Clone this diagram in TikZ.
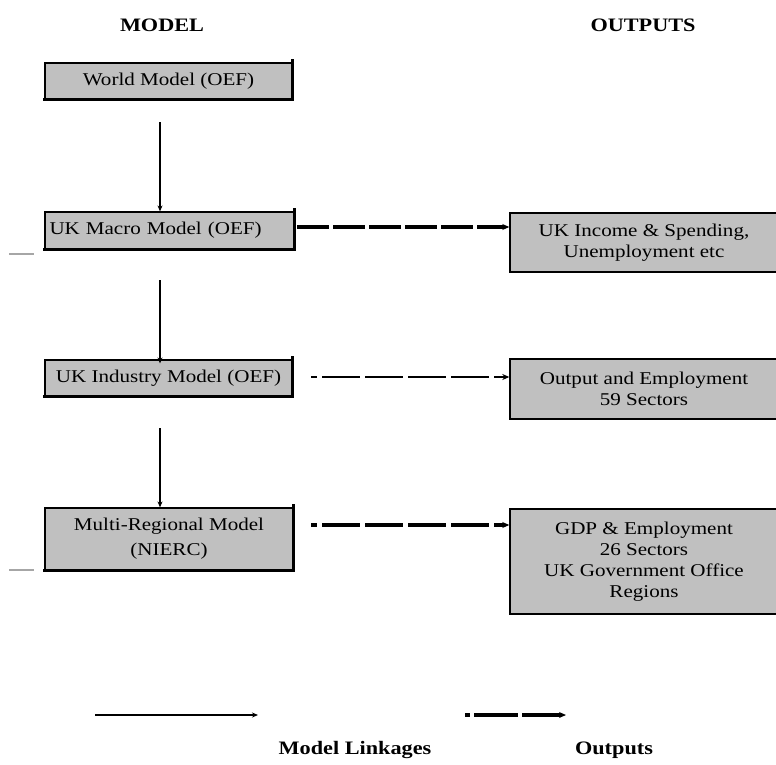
\documentclass[tikz,border=0pt]{standalone}
\usepackage{fontspec}
\setmainfont{Liberation Serif}[FakeStretch=1.17]
\usetikzlibrary{arrows.meta,calc}
\begin{document}
\begin{tikzpicture}[x=1pt,y=-1pt,
  modelbox/.style={draw=black,line width=1.2pt,fill=boxgray,inner sep=0pt,align=center,
    font=\fontsize{18}{25}\selectfont},
  outbox/.style={draw=black,line width=1.4pt,fill=boxgray,inner sep=0pt,align=center,
    font=\fontsize{18}{21}\selectfont,minimum width=268pt},
  shadowline/.style={line width=2.8pt,line cap=rect},
  link/.style={line width=1.1pt,-{Stealth[length=6pt,width=5pt]}},
  thickout/.style={line width=3.2pt,dash pattern=on 32pt off 4pt,-{Stealth[length=7pt,width=6pt]}},
  thinout/.style={line width=1.3pt,-{Stealth[length=7pt,width=6pt]}},
  hdr/.style={font=\fontsize{19}{21}\selectfont\bfseries}]
\definecolor{boxgray}{HTML}{C0C0C0}
\useasboundingbox (0,0) rectangle (776,764);

\node[hdr] (hmodel) at (162,25) {MODEL};
\node[hdr] (hout) at (643,25) {OUTPUTS};

\node[modelbox,minimum width=247pt,minimum height=36pt] (world) at (168.5,81) {World Model (OEF)};
\node[modelbox,minimum width=249pt,minimum height=37pt,text width=240pt,align=left] (macro) at (169.5,230.5) {UK Macro Model (OEF)};
\node[modelbox,minimum width=247pt,minimum height=36pt] (industry) at (168.5,378) {UK Industry Model (OEF)};
\node[modelbox,minimum width=248pt,minimum height=62pt] (multi) at (169,539) {Multi-Regional Model\\(NIERC)};

\foreach \b in {world,macro,industry,multi}{
  \draw[shadowline] ([yshift=2pt]\b.north east) -- (\b.south east) -- (\b.south west);
}

\node[outbox,minimum height=59pt] (income) at (644,242.5) {UK Income \& Spending,\\Unemployment etc};
\node[outbox,minimum height=60pt] (outemp) at (644,389) {Output and Employment\\59 Sectors};
\node[outbox,minimum height=105pt] (gdp) at (644,561.5) {GDP \& Employment\\26 Sectors\\UK Government Office\\Regions};

% model linkages
\coordinate (v1) at (160,122);
\coordinate (v2) at (160,280);
\coordinate (v3) at (160,428);
\draw[link] (v1) -- (v1 |- macro.north);
\draw[link] (v2) -- ($(v2 |- industry.north)+(0,4)$);
\draw[link] (v3) -- (v3 |- multi.north);

% outputs
\coordinate (h1) at (297,227);
\coordinate (h2) at (311,377);
\coordinate (h3) at (311,525);
\draw[thickout] (h1) -- (h1 -| income.west);
\draw[thinout,dash pattern=on 6pt off 5pt on 38pt off 5pt on 38pt off 5pt on 38pt off 5pt on 38pt off 5pt on 40pt off 5pt] (h2) -- (h2 -| outemp.west);
\draw[thickout,dash pattern=on 6pt off 5pt on 38pt off 5pt on 38pt off 5pt on 38pt off 5pt on 38pt off 5pt on 40pt off 5pt] (h3) -- (h3 -| gdp.west);

% stray marks
\draw[gray!70,line width=2pt] (9,254) -- (34,254);
\draw[gray!70,line width=2pt] (9,570) -- (34,570);

% legend
\coordinate (l1a) at (95,715);
\coordinate (l1b) at (258,715);
\coordinate (l2a) at (465,715);
\coordinate (l2b) at (566,715);
\draw[link] (l1a) -- (l1b);
\draw[thickout,dash pattern=on 5pt off 4pt on 44pt off 4pt on 40pt off 4pt] (l2a) -- (l2b);
\node[hdr] (lab1) at (355,750) {Model Linkages};
\node[hdr] (lab2) at (614,750) {Outputs};
\end{tikzpicture}
\end{document}
